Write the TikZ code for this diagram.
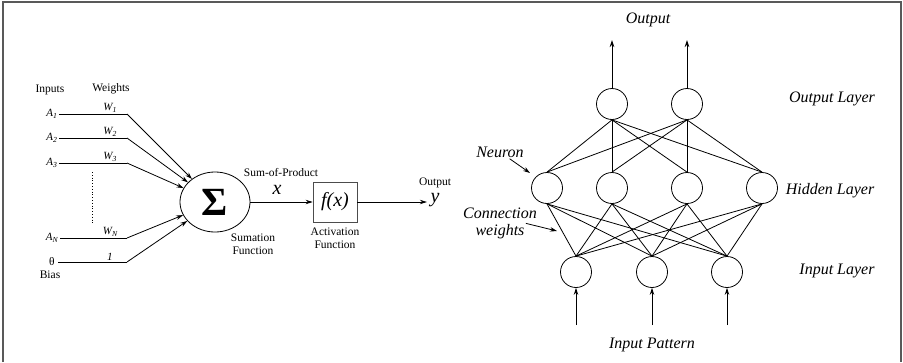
\documentclass[tikz,border=0pt]{standalone}
\usepackage{fontspec}
\setmainfont{Liberation Serif}
\usetikzlibrary{arrows.meta,shapes.geometric}
\begin{document}
\begin{tikzpicture}[x=1pt,y=-1pt,line width=0.8pt,>={Stealth[length=7pt,width=4.5pt]},
  every node/.style={font=\fontsize{11.5}{13}\selectfont},
  neuron/.style={draw,circle,minimum size=31pt,inner sep=0pt},
  lay/.style={font=\fontsize{16}{18}\selectfont\itshape,inner sep=1pt},
  wt/.style={font=\fontsize{11}{12}\selectfont\itshape,inner sep=1.5pt},
  big/.style={font=\fontsize{20}{20}\selectfont\itshape}]
  \useasboundingbox (0,0) rectangle (903,362);
  \draw[line width=2pt,black!65] (3,362) -- (3,1.5) -- (901,1.5) -- (901,362);
  % single neuron
  \node (inp) at (50,90) {Inputs};
  \node (wgt) at (111,89) {Weights};
  \node[wt] (a1) at (52,114) {A\textsubscript{1}};
  \node[wt] (a2) at (52,138) {A\textsubscript{2}};
  \node[wt] (a3) at (52,163) {A\textsubscript{3}};
  \node[wt] (an) at (52,238) {A\textsubscript{N}};
  \node (th) at (52,262) {θ};
  \node (bias) at (50,275) {Bias};
  \coordinate (k1) at (127,114); \coordinate (k2) at (127,138);
  \coordinate (k3) at (127,163); \coordinate (kn) at (127,238);
  \coordinate (kb) at (127,262);
  \coordinate (dt) at (92,172); \coordinate (db) at (92,225);
  \node[draw,ellipse,minimum width=70pt,minimum height=60pt,inner sep=0pt] (sig) at (215,202) {\fontsize{40}{40}\selectfont\bfseries Σ};
  \draw (a1) -- (k1) node[wt,pos=0.75,above] {W\textsubscript{1}};
  \draw (a2) -- (k2) node[wt,pos=0.75,above] {W\textsubscript{2}};
  \draw (a3) -- (k3) node[wt,pos=0.75,above] {W\textsubscript{3}};
  \draw (an) -- (kn) node[wt,pos=0.75,above] {W\textsubscript{N}};
  \draw (th) -- (kb) node[wt,pos=0.75,above] {1};
  \draw[dotted] (dt) -- (db);
  \foreach \k in {k1,k2,k3,kn,kb} \draw[->] (\k) -- (sig);
  \node[draw=black!70,minimum width=44pt,minimum height=40pt,big] (fx) at (335,202) {f(x)};
  \draw[->] (sig) -- (fx);
  \node (sop) at (281,173) {Sum-of-Product};
  \node[big] (xv) at (277,190) {x};
  \node[align=center] (sumf) at (253,244) {Sumation\\Function};
  \node[align=center] (actf) at (335,238) {Activation\\Function};
  \node (outl) at (435,183) {Output};
  \node[big] (yv) at (435,200) {y};
  \draw[->] (fx.east) -- (yv.west |- fx.east);
  % network
  \foreach \x [count=\i] in {612,687} {
    \node[neuron] (o\i) at (\x,104) {};
    \coordinate (ot\i) at (\x,40);
    \draw[->] (o\i) -- (ot\i);
  }
  \foreach \x [count=\i] in {547,612,687,762}
    \node[neuron] (h\i) at (\x,188) {};
  \foreach \x [count=\i] in {576,652,727} {
    \node[neuron] (n\i) at (\x,272) {};
    \coordinate (ib\i) at (\x,325);
    \draw[->] (ib\i) -- (n\i);
  }
  \foreach \i in {1,2} \foreach \j in {1,...,4} \draw (o\i.south) -- (h\j.north);
  \foreach \i in {1,...,4} \foreach \j in {1,2,3} \draw (h\i.south) -- (n\j.north);
  \node[lay] (outp) at (648,20) {Output};
  \node[lay] (olay) at (832,99) {Output Layer};
  \node[lay] (hlay) at (830,191) {Hidden Layer};
  \node[lay] (ilay) at (837,271) {Input Layer};
  \node[lay] (ipat) at (652,345) {Input Pattern};
  \node[lay] (neu) at (500,152) {Neuron};
  \coordinate (nrn) at (530,173);
  \draw[->] (neu) -- (nrn);
  \node[lay] (cw1) at (500,213) {Connection};
  \node[lay] (cw2) at (500,232) {weights};
  \coordinate (cwt) at (557,231);
  \draw[->] (cw2.north east) -- (cwt);
\end{tikzpicture}
\end{document}
